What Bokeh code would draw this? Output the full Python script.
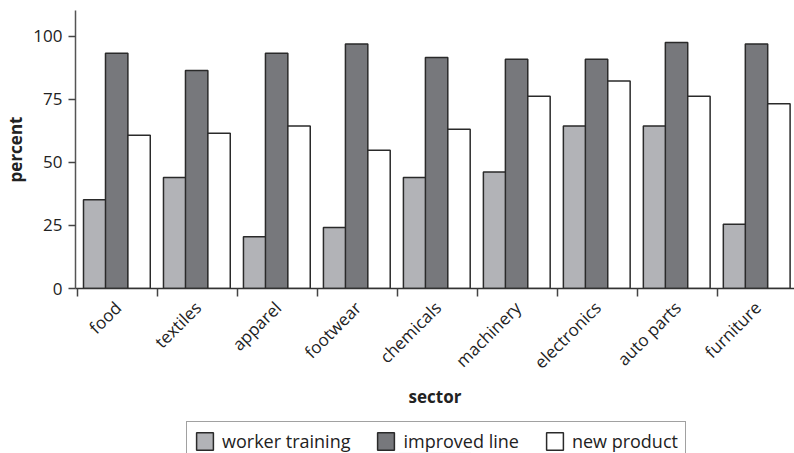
from bokeh.plotting import figure
from bokeh.models import Range1d, FixedTicker, Legend, LegendItem, ColumnDataSource
from bokeh.layouts import column
from bokeh.embed import file_html
from bokeh.resources import INLINE
import math

sectors = ["food", "textiles", "apparel", "footwear", "chemicals", "machinery",
           "electronics", "auto parts", "furniture"]
worker_training = [35.2, 44.0, 20.5, 24.2, 44.0, 46.2, 64.5, 64.5, 25.5]
improved_line = [93.3, 86.5, 93.3, 97.0, 91.7, 91.0, 91.0, 97.6, 97.0]
new_product = [60.8, 61.6, 64.5, 54.9, 63.2, 76.3, 82.3, 76.3, 73.3]
y_ticks = [0, 25, 50, 75, 100]
series_names = ["worker training", "improved line", "new product"]
colors = ["#b2b3b7", "#77787c", "#ffffff"]

FONT = "Open Sans"
n = len(sectors)
centers = [i + 0.5 for i in range(n)]
bounds = list(range(n + 1))
series = [worker_training, improved_line, new_product]

p = figure(output_backend="svg", toolbar_location=None,
           x_range=Range1d(-0.03, 8.96), y_range=Range1d(0, 110.3),
           frame_width=719, frame_height=278,
           min_border_left=75, min_border_right=0, min_border_top=10, min_border_bottom=131)
p.outline_line_color = None
p.xgrid.grid_line_color = None
p.ygrid.grid_line_color = None
p.background_fill_color = "white"
p.border_fill_color = "white"

offsets = [-0.29, -0.015, 0.265]
width = 0.28
line_col = "#2a2a2a"
for vals, off, col in zip(series, offsets, colors):
    src = ColumnDataSource(dict(x=[c + off for c in centers], top=vals))
    p.vbar(x="x", top="top", width=width, bottom=0, source=src,
           fill_color=col, line_color=line_col, line_width=1.5)

# x axis
xa = p.xaxis[0]
xa.ticker = FixedTicker(ticks=centers, minor_ticks=bounds)
xa.major_label_overrides = {c: s for c, s in zip(centers, sectors)}
xa.major_tick_line_color = None
xa.minor_tick_line_color = "#444444"
xa.minor_tick_line_width = 1.5
xa.minor_tick_out = 8
xa.minor_tick_in = 0
xa.major_label_orientation = math.pi / 4
xa.major_label_text_font = FONT
xa.major_label_text_font_size = "17px"
xa.major_label_text_color = "#222222"
xa.major_label_standoff = 8
xa.axis_line_color = "#333333"
xa.axis_line_width = 1.5
xa.axis_label = "sector"
xa.axis_label_text_font = FONT
xa.axis_label_text_font_style = "bold"
xa.axis_label_text_font_size = "17px"
xa.axis_label_text_color = "#222222"
xa.axis_label_standoff = 1

# y axis
ya = p.yaxis[0]
ya.ticker = FixedTicker(ticks=y_ticks)
ya.minor_tick_line_color = None
ya.major_tick_line_color = "#444444"
ya.major_tick_line_width = 1.5
ya.major_tick_out = 7
ya.major_tick_in = 0
ya.axis_line_color = "#555555"
ya.axis_line_width = 1.5
ya.major_label_text_font = FONT
ya.major_label_text_font_size = "17px"
ya.major_label_text_color = "#222222"
ya.major_label_standoff = 6
ya.axis_label = "percent"
ya.axis_label_text_font = FONT
ya.axis_label_text_font_style = "bold"
ya.axis_label_text_font_size = "17px"
ya.axis_label_text_color = "#222222"
ya.axis_label_standoff = 3

# legend strip (its bars lie outside its visible range; only the legend shows)
lg = figure(width=794, height=34, output_backend="svg", toolbar_location=None,
            x_axis_location=None, y_axis_location=None,
            x_range=Range1d(0, 1), y_range=Range1d(1000, 1001), min_border=0)
lg.outline_line_color = None
lg.xgrid.grid_line_color = None
lg.ygrid.grid_line_color = None
items = []
for nm, vals, col in zip(series_names, series, colors):
    src = ColumnDataSource(dict(x=centers, top=vals))
    r = lg.vbar(x="x", top="top", bottom=0, width=0.1, source=src,
                fill_color=col, line_color=line_col, line_width=1.5)
    items.append(LegendItem(label=nm, renderers=[r]))
legend = Legend(items=items, orientation="horizontal", location=(111, -8))
legend.label_text_font = FONT
legend.label_text_font_size = "18px"
legend.label_text_color = "#222222"
legend.glyph_width = 21
legend.glyph_height = 22
legend.label_standoff = 7
legend.spacing = 25
legend.padding = 7
legend.margin = 0
legend.border_line_color = "#444444"
legend.border_line_width = 1.5
lg.add_layout(legend, "center")

layout = column(p, lg, spacing=0)
open("out.html", "w").write(file_html(layout, INLINE))
